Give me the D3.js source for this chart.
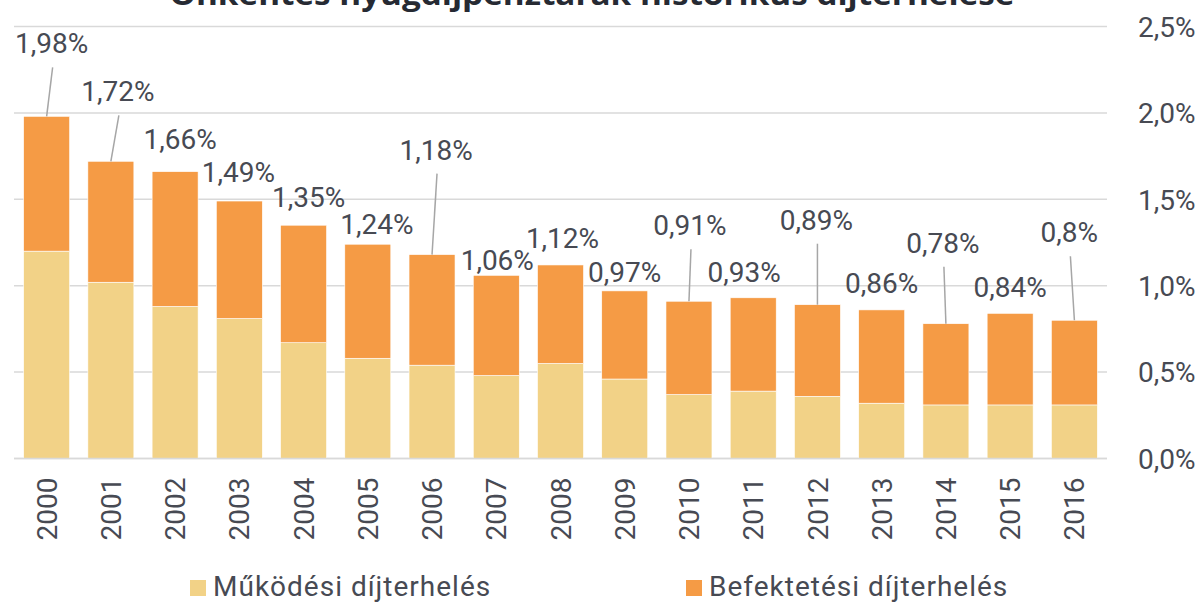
<!DOCTYPE html>
<html>
<head>
<meta charset="utf-8">
<script src="https://cdn.jsdelivr.net/npm/d3@7"></script>
<style>
  html, body { margin: 0; padding: 0; background: #fff; }
  svg { display: block; }
</style>
</head>
<body>
<svg id="chart" width="1200" height="602"></svg>
<script>
// ---- data ----
const years = ["2000","2001","2002","2003","2004","2005","2006","2007","2008","2009","2010","2011","2012","2013","2014","2015","2016"];
const mukodesi = [1.20,1.02,0.88,0.81,0.67,0.58,0.54,0.48,0.55,0.46,0.37,0.39,0.36,0.32,0.31,0.31,0.31];
const totals   = [1.98,1.72,1.66,1.49,1.35,1.24,1.18,1.06,1.12,0.97,0.91,0.93,0.89,0.86,0.78,0.84,0.80];
const totalLabels = ["1,98%","1,72%","1,66%","1,49%","1,35%","1,24%","1,18%","1,06%","1,12%","0,97%","0,91%","0,93%","0,89%","0,86%","0,78%","0,84%","0,8%"];
const yTicks = [0, 0.5, 1.0, 1.5, 2.0, 2.5];
const yTickLabels = ["0,0%","0,5%","1,0%","1,5%","2,0%","2,5%"];
const seriesNames = ["Működési díjterhelés","Befektetési díjterhelés"];
const titleText = "Önkéntes nyugdíjpénztárak historikus díjterhelése";

// ---- layout (label placement relative to bar top, px) ----
const labelDx = [5,7,5,-1,5,9,4,1,2,0,1,-9,-1,0,-3,0,-5];
const labelDy = [63,60,23,19,18,10,95,5,17,9,66,16,75,17,71,16,78];
const hasLeader = [1,1,0,0,0,0,1,0,0,0,1,0,1,0,1,0,1];

const colors = ["#F2D287", "#F59B45"];
const textColor = "#474a53";
const gridColor = "#d9d9d9";
const font = "Roboto, 'Open Sans', sans-serif";

const svg = d3.select("#chart");
const plotL = 14, plotR = 1107, plotT = 26.5, plotB = 458.5;

const x = d3.scaleBand().domain(years).range([plotL, plotR]).paddingInner(0.284).paddingOuter(0.15);
const y = d3.scaleLinear().domain([0, 2.5]).range([plotB, plotT]);

// stacked data
const rows = years.map((yr, i) => ({ year: yr, m: mukodesi[i], b: +(totals[i] - mukodesi[i]).toFixed(2) }));
const stacked = d3.stack().keys(["m","b"])(rows);

// title (cut off at top, as in the reference)
svg.append("text")
  .attr("x", 592).attr("y", 5)
  .attr("text-anchor", "middle")
  .attr("font-family", "'Open Sans', sans-serif")
  .attr("font-weight", 700)
  .attr("font-size", 30)
  .attr("fill", "#262a33")
  .attr("textLength", 845)
  .attr("lengthAdjust", "spacingAndGlyphs")
  .text(titleText);

// gridlines
svg.append("g").selectAll("line").data(yTicks).join("line")
  .attr("x1", plotL).attr("x2", plotR)
  .attr("y1", d => y(d)).attr("y2", d => y(d))
  .attr("stroke", gridColor).attr("stroke-width", 1.5);

// right axis tick labels
const yAxis = d3.axisRight(y).tickValues(yTicks).tickFormat((d, i) => yTickLabels[i]).tickSize(0).tickPadding(0);
const ya = svg.append("g").attr("transform", `translate(1138,0)`).call(yAxis);
ya.select(".domain").remove();
ya.selectAll("text").attr("font-family", font).attr("font-size", 28).attr("fill", textColor).attr("dy", "0.35em");

// bars
svg.append("g").selectAll("g").data(stacked).join("g")
  .attr("fill", (d, i) => colors[i])
  .selectAll("rect").data(d => d).join("rect")
  .attr("x", d => x(d.data.year))
  .attr("width", x.bandwidth())
  .attr("y", d => y(d[1]))
  .attr("height", d => y(d[0]) - y(d[1]))
  .attr("stroke", "#fff").attr("stroke-width", 0.6);

// baseline axis
svg.append("line").attr("x1", plotL).attr("x2", plotR).attr("y1", y(0)).attr("y2", y(0))
  .attr("stroke", gridColor).attr("stroke-width", 1.5);

// x axis labels (rotated)
const xAxis = d3.axisBottom(x).tickSize(0).tickPadding(0);
const xa = svg.append("g").attr("transform", `translate(0,${y(0)})`).call(xAxis);
xa.select(".domain").remove();
xa.selectAll("text")
  .attr("font-family", font).attr("font-size", 28).attr("fill", textColor)
  .attr("transform", "rotate(-90)")
  .attr("text-anchor", "end")
  .attr("x", -19).attr("y", 0).attr("dy", "0.36em");

// leader lines
const cx = i => x(years[i]) + x.bandwidth() / 2;
svg.append("g").selectAll("line").data(years.map((d, i) => i).filter(i => hasLeader[i])).join("line")
  .attr("x1", i => cx(i) + labelDx[i] + 1)
  .attr("y1", i => y(totals[i]) - labelDy[i] + 14)
  .attr("x2", i => cx(i))
  .attr("y2", i => y(totals[i]))
  .attr("stroke", "#a6a6a6").attr("stroke-width", 1.5);

// total labels
svg.append("g").selectAll("text").data(years.map((d, i) => i)).join("text")
  .attr("x", i => cx(i) + labelDx[i])
  .attr("y", i => y(totals[i]) - labelDy[i])
  .attr("text-anchor", "middle")
  .attr("font-family", font).attr("font-size", 28).attr("fill", textColor)
  .text(i => totalLabels[i]);

// legend
const legendX = [190, 686];
const lg = svg.append("g").selectAll("g").data(seriesNames).join("g")
  .attr("transform", (d, i) => `translate(${legendX[i]},0)`);
lg.append("rect").attr("x", 0).attr("y", 580).attr("width", 16).attr("height", 16).attr("fill", (d, i) => colors[i]);
lg.append("text").attr("x", 23).attr("y", 596)
  .attr("font-family", font).attr("font-size", 28).attr("letter-spacing", 1)
  .attr("fill", textColor)
  .text(d => d);
</script>
</body>
</html>
